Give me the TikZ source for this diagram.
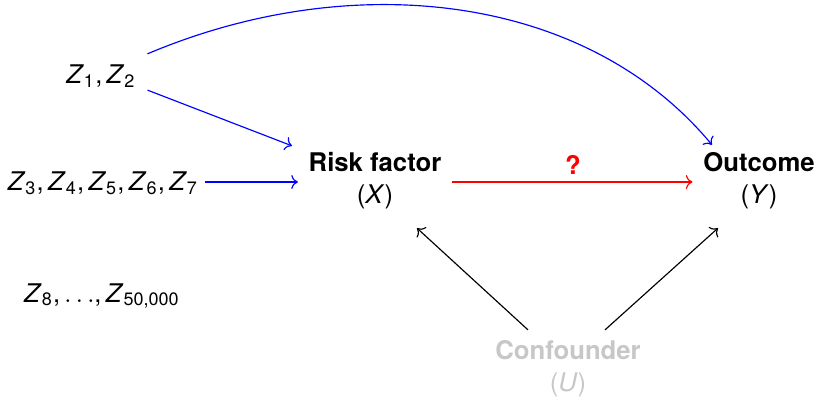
\documentclass[tikz,border=0pt]{standalone}
\usepackage{fontspec}
\setmainfont{TeX Gyre Heros}
\usetikzlibrary{arrows.meta}
\newcommand\myz[1]{\textit{Z}\textsubscript{#1}}
\tikzset{
  lbl/.style={inner sep=4pt, align=center, font=\fontsize{10pt}{12.5pt}\selectfont},
  bluearr/.style={->, blue, line width=0.45pt},
  redarr/.style={->, red, line width=0.45pt},
  blackarr/.style={->, black, line width=0.45pt},
}
\begin{document}
\begin{tikzpicture}[x=0.389pt, y=-0.389pt]
\useasboundingbox (0,0) rectangle (819,403);
\node[lbl] (z12) at (101,76) {\myz{1},\,\myz{2}};
\node[lbl] (z37) at (103,183) {\myz{3},\,\myz{4},\,\myz{5},\,\myz{6},\,\myz{7}};
\node[lbl] (z8) at (102,296) {\myz{8},\,$\ldots$,\,\myz{50,000}};
\node[lbl] (x) at (375,181) {\textbf{Risk factor}\\(\textit{X})};
\node[lbl] (y) at (759,181) {\textbf{Outcome}\\(\textit{Y})};
\node[lbl, text=black!22] (u) at (568,369) {\textbf{Confounder}\\(\textit{U})};
\node[lbl, text=red] (q) at (573,165) {\textbf{?}};
\draw[redarr] ([shift={(0,1)}]x.east) -- ([shift={(0,1)}]y.west);
\draw[bluearr] ([shift={(-4,-1)}]z37.east) -- ([shift={(0,1)}]x.west);
\draw[bluearr] ([shift={(1,-8)}]z12.south east) -- ([shift={(-6,4)}]x.north west);
\draw[bluearr] ([shift={(1,0)}]z12.north east) .. controls (350,-32) and (585,-8) .. ([shift={(-47,3)}]y.north);
\draw[blackarr] ([shift={(-40,0)}]u.north) -- ([shift={(42,8)}]x.south);
\draw[blackarr] ([shift={(37,0)}]u.north) -- ([shift={(-41,8)}]y.south);
\end{tikzpicture}
\end{document}
